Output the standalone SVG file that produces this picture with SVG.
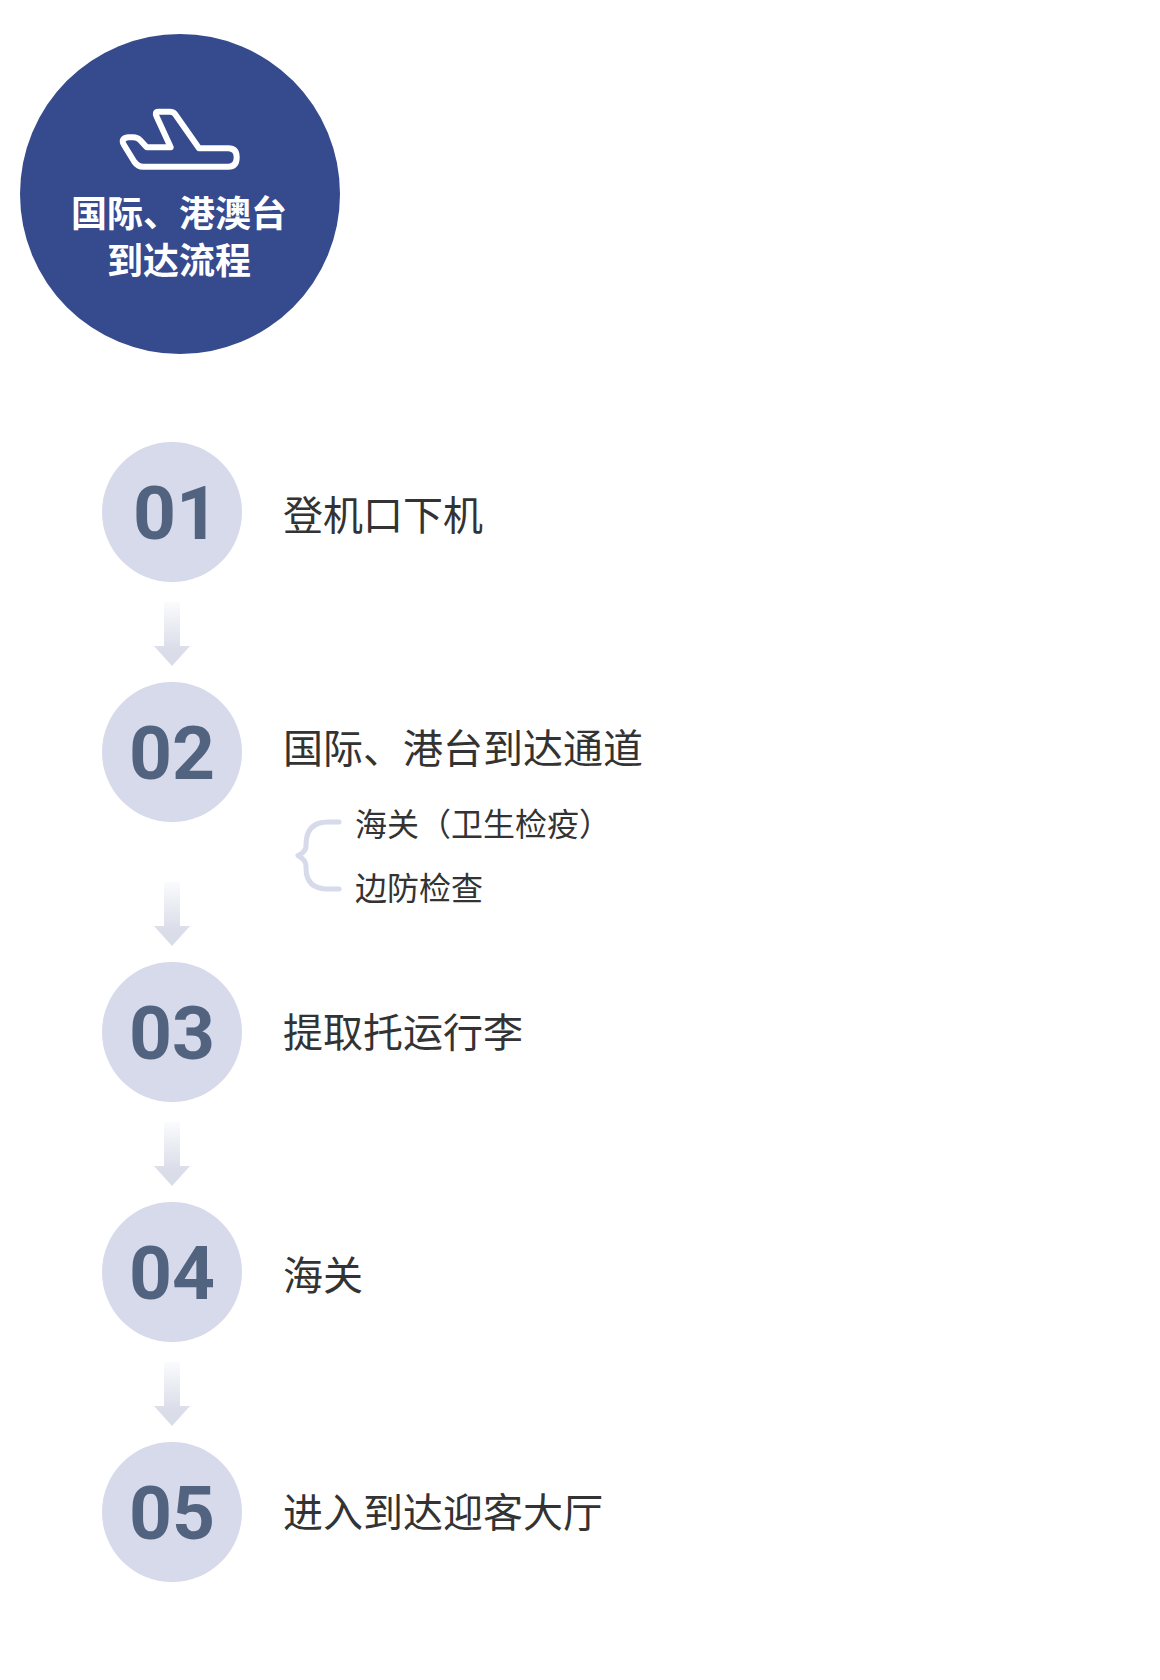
<svg xmlns="http://www.w3.org/2000/svg" width="1160" height="1680" viewBox="0 0 1160 1680">
<style>
text{font-family:"Noto Sans CJK SC","Noto Sans",sans-serif}
.n{fill:#d6daea}
.num{font-family:Roboto,"Noto Sans",sans-serif;font-size:75px;font-weight:700;fill:#52637f;text-anchor:middle}
.t{font-size:40px;fill:#333}
.s{font-size:32px;fill:#333}
.h{font-size:36px;font-weight:700;fill:#fff;text-anchor:middle}
</style>
<defs><linearGradient id="g" x1="0" y1="0" x2="0" y2="1"><stop offset="0" stop-color="#d8dbe8" stop-opacity="0.1"/><stop offset="0.7" stop-color="#d8dbe8" stop-opacity="0.9"/><stop offset="1" stop-color="#d8dbe8"/></linearGradient></defs>
<rect width="1160" height="1680" fill="#fff"/>
<g id="header">
<circle cx="180" cy="194" r="160" fill="#364a8e"/>
<path d="M158.3 111.7H170Q173 111.7 175 114L199 148.3H228.3Q236.7 148.3 236.7 157.3Q236.7 166.7 228.3 166.7H143.3Q137.7 166.7 134.3 161.7L124 145Q120 138.3 128.3 137.3H133.3Q137.3 137.3 140 140L146.7 147.3H170.7L156.7 116.7Q154.3 111.7 158.3 111.7Z" fill="none" stroke="#fff" stroke-width="6" stroke-linejoin="round"/>
<text class="h" x="179" y="227">国际、港澳台</text>
<text class="h" x="179" y="274">到达流程</text>
</g>
<g id="connectors" fill="url(#g)">
<path d="M164 602H180V646H190L172 666L154 646H164Z"/>
<path d="M164 882H180V926H190L172 946L154 926H164Z"/>
<path d="M164 1122H180V1166H190L172 1186L154 1166H164Z"/>
<path d="M164 1362H180V1406H190L172 1426L154 1406H164Z"/>
</g>
<g id="step1"><circle class="n" cx="172" cy="512" r="70"/><text class="num" x="176" y="539">01</text><text class="t" x="283" y="530">登机口下机</text></g>
<g id="step2"><circle class="n" cx="172" cy="752" r="70"/><text class="num" x="172" y="779">02</text><text class="t" x="283" y="763">国际、港台到达通道</text>
<path d="M339 822H328Q306 822 306 845V846Q306 852 298 855.5Q306 860 306 866V868Q306 889 328 889H339" fill="none" stroke="#d6daea" stroke-width="5" stroke-linecap="round" stroke-linejoin="round"/>
<text class="s" x="355" y="836">海关（卫生检疫）</text><text class="s" x="355" y="900">边防检查</text></g>
<g id="step3"><circle class="n" cx="172" cy="1032" r="70"/><text class="num" x="172" y="1059">03</text><text class="t" x="283" y="1047">提取托运行李</text></g>
<g id="step4"><circle class="n" cx="172" cy="1272" r="70"/><text class="num" x="172" y="1299">04</text><text class="t" x="283" y="1290">海关</text></g>
<g id="step5"><circle class="n" cx="172" cy="1512" r="70"/><text class="num" x="172" y="1539">05</text><text class="t" x="283" y="1527">进入到达迎客大厅</text></g>
</svg>
